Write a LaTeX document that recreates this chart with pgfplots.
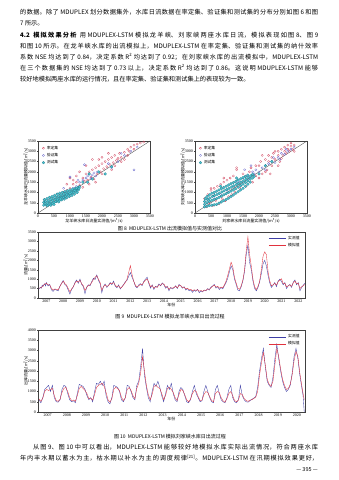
\documentclass[border=0pt]{standalone}
\usepackage{fontspec}
\setmainfont{Noto Sans CJK SC}
\newfontfamily\tickfont{Liberation Serif}
\usepackage{pgfplots}
\usepackage{pgfplotstable}
\pgfplotsset{compat=1.18}
\definecolor{obsblue}{RGB}{62,62,165}
\definecolor{simred}{RGB}{225,50,62}
\definecolor{calred}{RGB}{210,70,95}
\definecolor{valblue}{RGB}{105,105,205}
\definecolor{testcyan}{RGB}{75,200,210}
\definecolor{testedge}{RGB}{40,120,140}

\newcommand{\jline}[1]{\parbox[c]{298pt}{\fontsize{6.2}{7.5}\selectfont\XeTeXlinebreaklocale "zh"\XeTeXlinebreakskip=0pt plus 3pt\parfillskip=0pt\relax #1}}
\newcommand{\jlinei}[1]{\parbox[c]{285pt}{\fontsize{6.2}{7.5}\selectfont\XeTeXlinebreaklocale "zh"\XeTeXlinebreakskip=0pt plus 3pt\parfillskip=0pt\relax #1}}
\newcommand{\jfree}[1]{{\fontsize{6.2}{7.5}\selectfont #1}}

% ---------- scatter data: Longyangxia ----------
\pgfplotstableread{
x y
1000 1200
1100 1400
1200 1500
1300 1350
1400 1700
1450 1550
1500 1900
1550 1600
1600 2000
1650 1750
1700 2100
1750 1650
1800 2200
1850 1900
1900 2300
1950 2000
2000 2400
2050 2150
2100 2500
2150 2250
2200 2600
2250 2350
2300 2700
2350 2450
2400 2800
2450 2550
2500 2650
2550 2900
2600 2700
2700 2950
2800 3100
2850 3000
2900 3200
3000 3300
3100 3350
3200 3400
3300 3450
1500 2300
1700 2600
1300 2000
1100 1600
2000 2700
2200 2900
1900 2600
1000 1700
800 1000
900 1100
700 900
600 750
500 650
1600 1400
1800 1500
2000 1900
2400 2300
2600 2500
900 1400
1200 1800
2800 2800
3000 3100
1400 1250
2300 2100
2700 2600
}\lcal
\pgfplotstableread{
x y
1300 1500
1400 1600
1500 1700
1550 1800
1600 1900
1650 1700
1700 1850
1750 1950
1800 1800
1850 2000
1450 2350
1000 1750
2500 2500
2600 2900
2700 2800
2900 3000
3000 2100
3100 3200
1200 1300
1100 1200
2200 2400
2300 2200
800 1200
1250 1600
}\lval
\pgfplotstableread{
x y
180 380
180 520
200 650
220 450
240 560
260 380
280 700
300 480
320 600
340 420
360 760
380 540
400 660
420 460
440 800
460 600
480 720
500 520
520 860
540 660
560 780
580 560
600 920
620 700
640 820
660 600
680 960
700 760
720 880
740 640
760 1000
780 800
800 920
820 680
840 1040
860 860
880 960
900 740
920 1080
940 900
960 1000
980 800
1000 1120
1020 940
1040 1040
1060 860
1080 1160
1100 1000
1120 1080
1140 920
1160 1200
1180 1060
1200 1140
1220 1000
1240 1240
1260 1120
1280 1200
300 360
450 450
600 640
750 740
900 880
1050 980
1200 1200
400 380
550 560
700 680
850 800
1000 960
1150 1100
1300 1280
1400 1500
1550 1500
1700 1650
1900 2000
2100 1900
1600 1900
2300 2250
500 420
650 540
800 760
950 840
}\ltest
% ---------- scatter data: Liujiaxia ----------
\pgfplotstableread{
x y
300 700
350 300
400 900
450 500
500 1100
550 350
600 1200
650 600
700 1300
750 450
800 1400
850 700
900 1500
950 600
1000 1600
1050 800
1100 1700
1150 900
1200 1800
1250 1000
1300 2100
1400 1200
1500 1900
1600 1300
1700 2000
1800 1500
1900 2300
2000 1700
2050 2500
2100 1900
2200 2600
2250 2100
2300 2800
2400 2300
2450 2900
2500 2600
2600 3000
2650 2500
2700 3100
2750 2800
2800 3200
2850 2900
2900 3300
2950 3000
3000 3250
3050 3100
3100 3300
2200 2000
2400 2700
2600 2800
2800 3000
3000 3400
1300 2200
900 1700
500 1200
2100 2800
2300 2500
2500 3000
2700 2650
2900 3100
1750 2200
1900 1800
2000 2300
2350 1900
2600 2300
3100 3000
}\rcal
\pgfplotstableread{
x y
1400 1500
1500 1700
1600 1800
1650 1600
1700 1750
1800 2000
1850 1900
1900 2100
2000 2000
2100 2200
2200 2300
2300 2400
2400 2500
2500 2450
2600 2700
2700 2900
2800 2850
2900 3000
3000 3100
3100 3200
1550 2100
1200 1300
1300 1500
1000 1100
800 900
600 700
2200 2100
2450 2700
2650 2600
2850 3100
1750 2300
}\rval
\pgfplotstableread{
x y
300 300
300 420
300 560
320 700
375 330
375 500
390 650
375 800
450 360
450 560
460 720
450 880
525 380
525 620
540 800
525 960
600 400
600 650
610 850
600 1000
675 420
675 700
690 900
675 1060
750 480
750 760
760 960
750 1120
825 540
825 820
840 1020
825 1180
900 600
900 880
910 1080
900 1240
975 660
975 940
990 1140
975 1300
1050 720
1050 1000
1060 1200
1050 1360
1125 800
1125 1060
1140 1260
1125 1420
1200 880
1200 1120
1210 1320
1200 1480
1275 960
1275 1180
1290 1380
1275 1540
1350 1040
1350 1260
1360 1440
1350 1600
1425 1120
1425 1330
1440 1500
1425 1660
1500 1200
1500 1400
1510 1560
1500 1720
1575 1300
1575 1480
1590 1640
1575 1780
1650 1400
1650 1560
1660 1720
1650 1840
1725 1500
1725 1650
1740 1800
1800 1700
1800 1880
1850 1780
2000 1900
2200 2300
2400 2500
1300 1700
800 1300
}\rtest
% ---------- daily outflow: Longyangxia ----------
\pgfplotstableread{
x obs sim
2006.55 480 520
2006.65 560 540
2006.7 520 560
2006.75 680 600
2006.8 610 650
2006.85 700 700
2006.9 760 720
2006.95 640 760
2007.0 820 780
2007.05 720 740
2007.1 640 700
2007.2 720 690
2007.25 560 600
2007.3 430 520
2007.4 350 420
2007.5 460 480
2007.6 420 460
2007.7 380 430
2007.8 620 600
2007.9 780 760
2008.0 930 880
2008.05 800 860
2008.1 720 760
2008.2 640 690
2008.3 420 500
2008.4 210 330
2008.5 460 480
2008.6 580 600
2008.7 820 780
2008.8 960 900
2008.9 780 840
2009.0 1000 940
2009.1 720 760
2009.2 600 650
2009.3 230 400
2009.4 580 560
2009.5 700 660
2009.6 640 700
2009.7 880 820
2009.8 1050 980
2009.9 980 1100
2010.0 1220 1180
2010.1 940 1000
2010.2 760 820
2010.3 280 420
2010.4 620 600
2010.5 740 700
2010.6 560 620
2010.7 680 650
2010.8 820 780
2010.9 700 760
2011.0 900 820
2011.1 620 680
2011.2 540 600
2011.3 700 650
2011.4 480 520
2011.5 600 580
2011.6 720 700
2011.7 860 820
2011.8 940 1000
2011.9 1150 1350
2012.0 1350 1720
2012.1 1100 1250
2012.2 900 880
2012.3 620 680
2012.4 540 580
2012.5 700 650
2012.6 760 720
2012.7 650 700
2012.8 880 840
2012.9 1000 950
2013.0 1100 1000
2013.1 760 820
2013.2 520 600
2013.3 700 660
2013.4 450 520
2013.5 620 600
2013.6 580 560
2013.7 750 700
2013.8 640 680
2013.9 800 760
2014.0 700 740
2014.1 520 580
2014.2 620 600
2014.3 380 460
2014.4 560 540
2014.5 480 520
2014.6 540 560
2014.7 650 620
2014.8 500 540
2014.9 720 680
2015.0 640 660
2015.1 520 560
2015.2 600 580
2015.3 420 480
2015.4 500 520
2015.5 380 440
2015.6 430 460
2015.7 300 380
2015.8 420 440
2015.9 350 400
2016.0 460 440
2016.1 280 360
2016.2 380 400
2016.3 320 350
2016.4 420 420
2016.5 380 400
2016.6 500 480
2016.7 420 460
2016.8 580 540
2016.9 640 620
2017.0 720 680
2017.1 520 580
2017.2 600 620
2017.3 450 520
2017.4 560 580
2017.5 480 540
2017.6 650 700
2017.7 820 900
2017.8 1050 1200
2017.9 1400 1550
2018.0 1700 1900
2018.1 1500 1650
2018.2 1000 1100
2018.3 720 800
2018.4 420 520
2018.5 380 460
2018.6 600 650
2018.7 900 950
2018.8 1400 1500
2018.9 2300 2500
2019.0 2800 3250
2019.1 1900 2300
2019.2 1500 1700
2019.3 900 1000
2019.4 500 600
2019.5 380 450
2019.6 560 620
2019.7 850 900
2019.8 1300 1500
2019.9 1800 2200
2020.0 2000 2450
2020.1 1700 2300
2020.2 1200 1400
2020.3 800 900
2020.4 560 650
2020.5 680 700
2020.6 820 780
2020.7 600 680
2020.8 900 860
2020.9 1000 950
2021.0 880 1020
2021.1 700 760
2021.2 820 780
2021.3 500 600
2021.4 650 640
2021.5 720 700
2021.6 560 620
2021.7 840 800
2021.8 960 900
2021.9 700 760
2022.0 820 780
2022.1 380 500
2022.2 560 600
2022.3 680 650
2022.38 780 720
}\lyx
% ---------- daily outflow: Liujiaxia ----------
\pgfplotstableread{
x obs sim
2006.55 600 640
2006.65 450 520
2006.75 700 680
2006.85 1100 1000
2006.95 1200 1100
2007.05 1300 1050
2007.15 1000 1100
2007.25 1300 1150
2007.35 700 800
2007.45 500 560
2007.55 480 520
2007.65 600 620
2007.75 1100 950
2007.85 1300 1150
2007.95 1250 1200
2008.05 900 1000
2008.15 600 700
2008.25 500 560
2008.35 550 580
2008.45 450 520
2008.55 900 800
2008.65 1350 1150
2008.75 1300 1250
2008.85 1250 1150
2008.95 1100 1050
2009.05 800 900
2009.15 600 650
2009.25 700 680
2009.35 500 580
2009.45 1000 850
2009.55 1400 1200
2009.65 1350 1300
2009.75 1500 1350
2009.85 1300 1400
2009.95 1500 1250
2010.05 800 950
2010.15 500 600
2010.25 400 480
2010.35 700 650
2010.45 1300 1100
2010.55 1250 1200
2010.65 1200 1150
2010.75 1000 1050
2010.85 600 720
2010.95 500 560
2011.05 700 680
2011.15 1300 1100
2011.25 1250 1200
2011.35 1000 1050
2011.45 700 800
2011.55 600 650
2011.65 1300 1150
2011.75 1500 1400
2011.85 2200 1900
2011.95 3100 2700
2012.05 1800 2000
2012.15 1200 1300
2012.25 700 850
2012.35 500 600
2012.45 1000 850
2012.55 1400 1250
2012.65 1250 1300
2012.75 1500 1200
2012.85 1200 1150
2012.95 800 900
2013.05 500 600
2013.15 900 800
2013.25 1300 1150
2013.35 1100 1200
2013.45 1400 1100
2013.55 900 950
2013.65 600 700
2013.75 500 560
2013.85 1000 850
2013.95 1200 1100
2014.05 1100 1050
2014.15 800 850
2014.25 500 600
2014.35 450 500
2014.45 600 620
2014.55 1000 900
2014.65 1300 1050
2014.75 900 1000
2014.85 700 750
2014.95 500 560
2015.05 550 580
2015.15 1000 850
2015.25 1300 1000
2015.35 1000 950
2015.45 700 750
2015.55 500 560
2015.65 450 500
2015.75 1100 900
2015.85 1300 1000
2015.95 900 950
2016.05 600 700
2016.15 500 540
2016.25 450 480
2016.35 700 650
2016.45 1100 900
2016.55 1300 1000
2016.65 700 800
2016.75 500 560
2016.85 450 500
2016.95 600 580
2017.05 1300 900
2017.15 800 850
2017.25 600 650
2017.35 500 560
2017.45 480 520
2017.55 550 580
2017.65 620 600
2017.75 680 660
2017.85 750 720
2017.95 1200 1000
2018.05 2000 1800
2018.15 2600 2400
2018.25 3100 2900
2018.35 2200 2300
2018.45 1500 1600
2018.55 1300 1350
2018.65 1200 1250
2018.75 1700 1500
2018.85 2600 2300
2018.95 3300 3100
2019.05 2600 2700
2019.15 2000 2100
2019.25 1500 1600
2019.35 1200 1300
2019.45 1000 1100
2019.55 1100 1150
2019.65 1300 1350
2019.75 1900 1800
2019.85 2700 2500
2019.95 3100 2950
2020.05 2600 2700
2020.15 1800 1900
2020.25 1200 1300
2020.32 800 900
2020.38 0 600
}\ljx

\pgfplotsset{
  every axis/.append style={
    scale only axis,
    enlargelimits=false,
    axis line style={line width=0.3pt, black!75},
    tick style={line width=0.3pt, black!75},
    major tick length=1.2pt,
    tick align=outside,
    xtick pos=bottom, ytick pos=left,
    /pgf/number format/assume math mode=true,
    tick label style={font=\tickfont\fontsize{4}{4.5}\selectfont},
    xticklabel style={inner sep=0.7pt},
    yticklabel style={inner sep=0.7pt},
    label style={font=\fontsize{4}{4.6}\selectfont},
    /pgf/number format/1000 sep={},
  },
  scat/.style={
    width=112pt, height=72pt,
    xmin=0, xmax=3500, ymin=0, ymax=3500,
    xtick={0,500,...,3500}, ytick={0,500,...,3500},
    xlabel style={yshift=3.5pt},
    ylabel style={yshift=-4.5pt},
    legend style={at={(0.03,0.97)}, anchor=north west, draw=none, fill=none,
      font=\fontsize{3.8}{4.2}\selectfont, row sep=-1.5pt, inner sep=0.5pt},
    legend cell align=left,
  },
  ts/.style={
    width=267pt,
    xtick={2007,2008,...,2022},
    xlabel style={yshift=3.5pt},
    ylabel style={yshift=-4.5pt},
    legend style={at={(0.99,0.98)}, anchor=north east, draw=none, fill=none,
      font=\fontsize{3.8}{4.2}\selectfont, row sep=-1.5pt, inner sep=0.5pt},
    legend cell align=left,
  },
}

\begin{document}
\begin{tikzpicture}[x=1pt,y=1pt]
\useasboundingbox (0pt,0pt) rectangle (339pt,480pt);
\fill[white] (0pt,0pt) rectangle (339pt,480pt);

% ---------- body text (top) ----------
\node[anchor=west, inner sep=0] at (20pt,468pt) {\jline{的数据。除了 MDUPLEX 划分数据集外，水库日流数据在率定集、验证集和测试集的分布分别如图 6 和图}};
\node[anchor=west, inner sep=0] at (20pt,457pt) {\jfree{7 所示。}};
\node[anchor=west, inner sep=0] at (20pt,445pt) {\jline{\textbf{4.2\ \ 模拟效果分析}\ \ 用 MDUPLEX-LSTM 模拟龙羊峡、刘家峡两座水库日流，模拟表现如图 8、图 9}};
\node[anchor=west, inner sep=0] at (20pt,434pt) {\jline{和图 10 所示。在龙羊峡水库的出流模拟上，MDUPLEX-LSTM 在率定集、验证集和测试集的纳什效率}};
\node[anchor=west, inner sep=0] at (20pt,423pt) {\jline{系数 NSE 均达到了 0.84，决定系数 R\textsuperscript{2} 均达到了 0.92；在刘家峡水库的出流模拟中，MDUPLEX-LSTM}};
\node[anchor=west, inner sep=0] at (20pt,412pt) {\jline{在三个数据集的 NSE 均达到了 0.73 以上，决定系数 R\textsuperscript{2} 均达到了 0.86。这说明 MDUPLEX-LSTM 能够}};
\node[anchor=west, inner sep=0] at (20pt,401pt) {\jfree{较好地模拟两座水库的运行情况，且在率定集、验证集和测试集上的表现较为一致。}};

% ---------- scatter: Longyangxia ----------
\begin{axis}[scat, at={(38pt,267pt)}, anchor=south west,
  xlabel={龙羊峡水库日流量实测值/(m\textsuperscript{3}/s)},
  ylabel={龙羊峡水库日流量模拟值/(m\textsuperscript{3}/s)}]
\addplot[only marks, mark=o, mark size=1.1pt, calred, line width=0.25pt] table[x=x,y=y]{\lcal};
\addlegendentry{率定集}
\addplot[only marks, mark=o, mark size=1.1pt, valblue, line width=0.25pt] table[x=x,y=y]{\lval};
\addlegendentry{验证集}
\addplot[only marks, mark=*, mark size=1.4pt, mark options={fill=testcyan, draw=testedge, line width=0.2pt}] table[x=x,y=y]{\ltest};
\addlegendentry{测试集}
\addplot[black!70, line width=0.35pt, forget plot] coordinates {(0,0) (3500,3500)};
\end{axis}

% ---------- scatter: Liujiaxia ----------
\begin{axis}[scat, at={(195pt,267pt)}, anchor=south west,
  xlabel={刘家峡水库日流量实测值/(m\textsuperscript{3}/s)},
  ylabel={刘家峡水库日流量模拟值/(m\textsuperscript{3}/s)}]
\addplot[only marks, mark=o, mark size=1.1pt, calred, line width=0.25pt] table[x=x,y=y]{\rcal};
\addlegendentry{率定集}
\addplot[only marks, mark=o, mark size=1.1pt, valblue, line width=0.25pt] table[x=x,y=y]{\rval};
\addlegendentry{验证集}
\addplot[only marks, mark=*, mark size=1.4pt, mark options={fill=testcyan, draw=testedge, line width=0.2pt}] table[x=x,y=y]{\rtest};
\addlegendentry{测试集}
\addplot[black!70, line width=0.35pt, forget plot] coordinates {(0,0) (3500,3500)};
\end{axis}

\node[font=\fontsize{5}{6}\selectfont, inner sep=0] at (170pt,251pt) {图 8\ \ MDUPLEX-LSTM 出流模拟值与实测值对比};

% ---------- time series: Longyangxia ----------
\begin{axis}[ts, at={(38pt,182pt)}, anchor=south west, height=66pt,
  xmin=2006.5, xmax=2022.4, ymin=0, ymax=3500, ytick={0,500,...,3500},
  xlabel={年份}, ylabel={流量/(m\textsuperscript{3}/s)}]
\addplot[obsblue, line width=0.35pt] table[x=x,y=obs]{\lyx};
\addlegendentry{实测值}
\addplot[simred, line width=0.35pt] table[x=x,y=sim]{\lyx};
\addlegendentry{模拟值}
\end{axis}
\node[font=\fontsize{5}{6}\selectfont, inner sep=0] at (170pt,163pt) {图 9\ \ MDUPLEX-LSTM 模拟龙羊峡水库日出流过程};

% ---------- time series: Liujiaxia ----------
\begin{axis}[ts, at={(38pt,68pt)}, anchor=south west, height=82pt,
  xmin=2006.5, xmax=2020.42, ymin=0, ymax=4000, ytick={0,500,...,4000},
  xtick={2007,2008,...,2020},
  xlabel={年份}, ylabel={出库流量/(m\textsuperscript{3}/s)}]
\addplot[obsblue, line width=0.35pt] table[x=x,y=obs]{\ljx};
\addlegendentry{实测值}
\addplot[simred, line width=0.35pt] table[x=x,y=sim]{\ljx};
\addlegendentry{模拟值}
\end{axis}
\node[font=\fontsize{5}{6}\selectfont, inner sep=0] at (170pt,43pt) {图 10\ \ MDUPLEX-LSTM 模拟刘家峡水库日出流过程};

% ---------- body text (bottom) ----------
\node[anchor=west, inner sep=0] at (33pt,33pt) {\jlinei{从图 9、图 10 中可以看出，MDUPLEX-LSTM 能够较好地模拟水库实际出流情况，符合两座水库}};
\node[anchor=west, inner sep=0] at (20pt,22pt) {\jline{年内丰水期以蓄水为主，枯水期以补水为主的调度规律\textsuperscript{[21]}。MDUPLEX-LSTM 在汛期模拟效果更好，}};
\node[anchor=east, inner sep=0, font=\fontsize{5.5}{6}\selectfont] at (318pt,10pt) {— 395 —};
\end{tikzpicture}
\end{document}
